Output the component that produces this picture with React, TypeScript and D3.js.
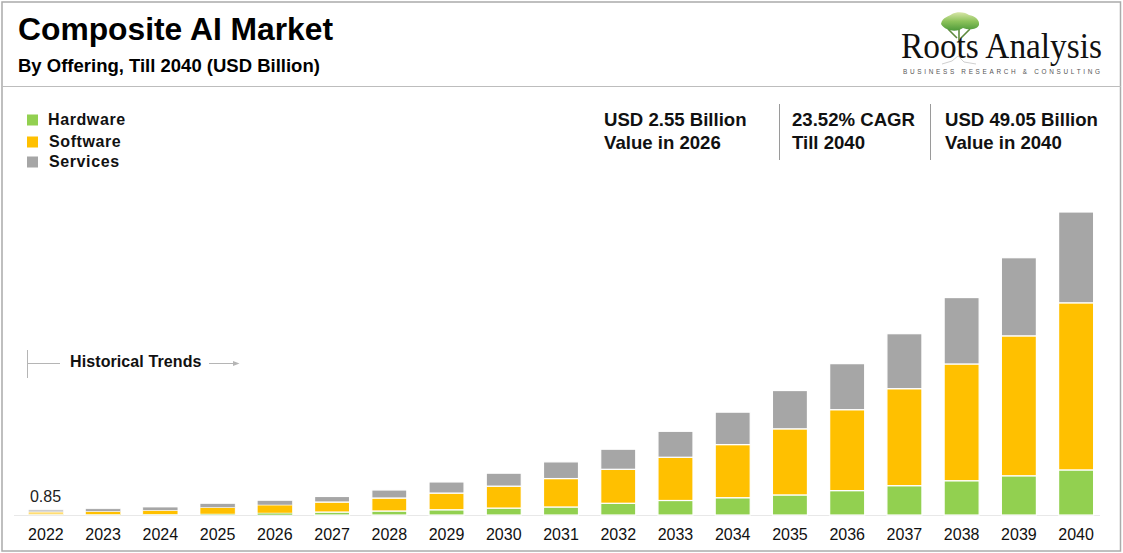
import React from "react";
import * as d3 from "d3";

const years = [2022,2023,2024,2025,2026,2027,2028,2029,2030,2031,2032,2033,2034,2035,2036,2037,2038,2039,2040].map(String);
const hardware = [0.08,0.09,0.12,0.16,0.32,0.48,0.65,0.85,1.12,1.3,1.9,2.35,2.8,3.25,3.95,4.75,5.55,6.35,7.3];
const software = [0.41,0.49,0.64,1.05,1.3,1.62,2.1,2.7,3.55,4.6,5.5,7.0,8.6,10.7,13.1,15.7,18.9,22.65,27.05];
const services = [0.36,0.42,0.52,0.62,0.7,0.9,1.3,1.8,2.1,2.7,3.25,4.2,5.25,6.2,7.45,8.9,10.75,12.65,14.7];
const seriesNames = ["Hardware","Software","Services"];
const seriesColors = ["#92D050","#FFC000","#A6A6A6"];
const FONT = "'Liberation Sans', Arial, sans-serif";

const rows = years.map((y, i) => ({ year: y, Hardware: hardware[i], Software: software[i], Services: services[i] }));
const stacked = d3.stack<any>().keys(seriesNames)(rows);
const x = d3.scaleBand().domain(years).range([17.5, 1104.5]).paddingInner(0.388).paddingOuter(0.19);
const y = d3.scaleLinear().domain([0, 49.05]).range([515, 212]);

const callouts = [
  { x: 604, a: "USD 2.55 Billion", b: "Value in 2026" },
  { x: 792, a: "23.52% CAGR", b: "Till 2040" },
  { x: 945, a: "USD 49.05 Billion", b: "Value in 2040" },
];
const legendY = [120, 142, 162];
const legendTextX = [48, 49, 49];

export default function App() {
  return (
    <svg width={1123} height={553} style={{ position: "absolute", left: 0, top: 0, background: "#fff" }} fontFamily={FONT}>
      <defs>
        <linearGradient id="tree" x1="0" y1="0" x2="0" y2="1">
          <stop offset="0" stopColor="#D8E6A8" />
          <stop offset="0.5" stopColor="#8CC25A" />
          <stop offset="1" stopColor="#4E9A3A" />
        </linearGradient>
      </defs>
      <rect x={2} y={2} width={1118.5} height={549} fill="none" stroke="#ABABAB" strokeWidth={1.5} />
      <line x1={2} x2={1121} y1={86.5} y2={86.5} stroke="#BDBDBD" strokeWidth={1.2} />
      <text x={18} y={40} fontSize={31.8} fontWeight={700} fill="#000">Composite AI Market</text>
      <text x={18} y={72} fontSize={18.5} fontWeight={700} fill="#000">By Offering, Till 2040 (USD Billion)</text>

      {/* logo */}
      <g>
        <path d="M948 29 L957 38 M970 29 L961 38 M959 27 L959 42" stroke="#5E8A3E" strokeWidth={1.6} fill="none" />
        <path d="M941 24 C942 17 950 16 952 14 C957 11 966 12 969 15 C975 16 980 20 979 25 C977 30 968 30 963 28 C958 32 946 32 941 24 Z" fill="url(#tree)" />
        <text x={901} y={58} fontSize={36.5} fontFamily="'Liberation Serif', serif" fill="#111" textLength={201} lengthAdjust="spacingAndGlyphs">Roots Analysis</text>
        <path d="M942 64 L952 61 L958 56 L964 62 L976 64" stroke="#D0D0D0" strokeWidth={1} fill="none" />
        <text x={903} y={74} fontSize={6.4} fill="#555" textLength={197}>BUSINESS RESEARCH &amp; CONSULTING</text>
      </g>

      {/* legend */}
      {seriesNames.map((n, i) => (
        <g key={n}>
          <rect x={27} y={legendY[i] - 5.5} width={11} height={11} fill={seriesColors[i]} />
          <text x={legendTextX[i]} y={legendY[i] + 5} fontSize={16} fontWeight={700} letterSpacing={0.6} fill="#111">{n}</text>
        </g>
      ))}

      {/* callouts */}
      {callouts.map((c) => (
        <g key={c.a}>
          <text x={c.x} y={126} fontSize={18.6} fontWeight={700} fill="#111">{c.a}</text>
          <text x={c.x} y={149} fontSize={18.6} fontWeight={700} fill="#111">{c.b}</text>
        </g>
      ))}
      <line x1={779.5} x2={779.5} y1={104} y2={160} stroke="#9A9A9A" />
      <line x1={930.5} x2={930.5} y1={104} y2={160} stroke="#9A9A9A" />

      {/* historical trends */}
      <line x1={27.5} x2={27.5} y1={350} y2={378} stroke="#B5B5B5" />
      <line x1={28} x2={60} y1={363.5} y2={363.5} stroke="#B5B5B5" />
      <text x={70} y={367} fontSize={16} fontWeight={700} letterSpacing={0.1} fill="#111">Historical Trends</text>
      <line x1={209} x2={236} y1={363.5} y2={363.5} stroke="#B5B5B5" />
      <path d="M233 361 L239.5 363.5 L233 366 Z" fill="#B5B5B5" />

      {/* baseline */}
      <line x1={14} x2={1100} y1={515.5} y2={515.5} stroke="#E8E8E8" strokeWidth={1} />

      {/* bars */}
      {stacked.map((s, si) => (
        <g key={s.key} fill={seriesColors[si]}>
          {s.map((d, i) => (
            <rect
              key={years[i]}
              x={x(years[i])}
              width={x.bandwidth()}
              y={y(d[1])}
              height={Math.max(0, y(d[0]) - y(d[1]))}
              stroke="#fff"
              strokeWidth={i < 5 ? 0.5 : 1.2}
              opacity={i === 0 ? 0.55 : 1}
            />
          ))}
        </g>
      ))}

      {/* x labels */}
      {years.map((yr) => (
        <text key={yr} x={x(yr)! + x.bandwidth() / 2} y={540} fontSize={16} textAnchor="middle" fill="#111">{yr}</text>
      ))}
      <text x={45.5} y={502} fontSize={16} textAnchor="middle" fill="#222">0.85</text>
    </svg>
  );
}
